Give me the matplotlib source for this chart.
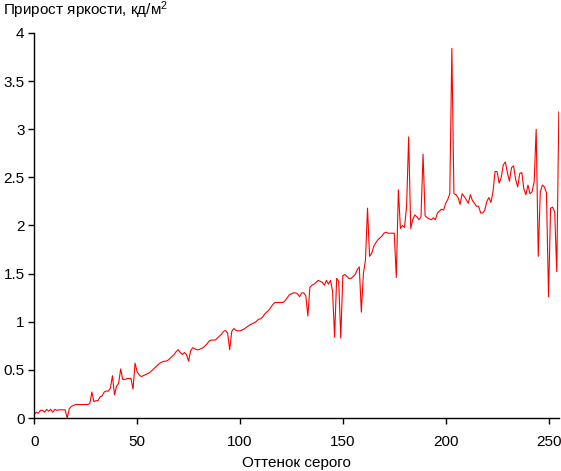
import matplotlib
matplotlib.use("Agg")
import matplotlib.pyplot as plt
import numpy as np

gray_levels = list(range(256))

increment_0_49 = [0.04, 0.06, 0.05, 0.08, 0.08, 0.06, 0.09, 0.07, 0.09, 0.06,
                  0.09, 0.08, 0.085, 0.085, 0.085, 0.085, 0.00, 0.095, 0.12, 0.13,
                  0.14, 0.14, 0.14, 0.14, 0.14, 0.14, 0.14, 0.15, 0.27, 0.17,
                  0.18, 0.18, 0.22, 0.23, 0.27, 0.28, 0.28, 0.31, 0.44, 0.24,
                  0.33, 0.36, 0.51, 0.40, 0.40, 0.41, 0.41, 0.41, 0.30, 0.57]
increment_50_99 = [0.48, 0.45, 0.43, 0.44, 0.45, 0.46, 0.47, 0.49, 0.51, 0.53,
                   0.55, 0.57, 0.58, 0.59, 0.59, 0.60, 0.62, 0.64, 0.66, 0.69,
                   0.71, 0.68, 0.66, 0.68, 0.66, 0.59, 0.70, 0.73, 0.72, 0.71,
                   0.71, 0.72, 0.73, 0.75, 0.77, 0.80, 0.81, 0.81, 0.81, 0.83,
                   0.85, 0.87, 0.90, 0.91, 0.88, 0.71, 0.90, 0.93, 0.91, 0.905]
increment_100_149 = [0.905, 0.915, 0.925, 0.94, 0.955, 0.97, 0.98, 0.99, 1.005, 1.025,
                     1.03, 1.05, 1.08, 1.10, 1.12, 1.15, 1.18, 1.20, 1.20, 1.20,
                     1.20, 1.20, 1.22, 1.25, 1.28, 1.29, 1.30, 1.30, 1.29, 1.26,
                     1.30, 1.30, 1.27, 1.06, 1.36, 1.38, 1.39, 1.41, 1.43, 1.42,
                     1.41, 1.38, 1.43, 1.39, 1.43, 1.32, 0.84, 1.45, 1.42, 0.83]
increment_150_199 = [1.48, 1.49, 1.47, 1.45, 1.45, 1.47, 1.49, 1.54, 1.57, 1.10,
                     1.50, 1.64, 2.18, 1.68, 1.71, 1.78, 1.82, 1.85, 1.87, 1.89,
                     1.92, 1.93, 1.92, 1.92, 1.92, 1.92, 1.46, 2.37, 1.97, 2.00,
                     1.98, 2.20, 2.92, 1.97, 2.06, 2.11, 2.09, 2.06, 2.09, 2.74,
                     2.10, 2.08, 2.07, 2.06, 2.08, 2.06, 2.13, 2.15, 2.17, 2.16]
increment_200_255 = [2.23, 2.27, 2.33, 3.84, 2.33, 2.32, 2.29, 2.22, 2.33, 2.30,
                     2.27, 2.23, 2.32, 2.26, 2.23, 2.20, 2.20, 2.13, 2.13, 2.16,
                     2.25, 2.29, 2.24, 2.35, 2.56, 2.56, 2.44, 2.50, 2.63, 2.66,
                     2.55, 2.46, 2.60, 2.62, 2.48, 2.40, 2.54, 2.55, 2.38, 2.32,
                     2.42, 2.33, 2.35, 2.45, 3.00, 1.68, 2.35, 2.42, 2.40, 2.34,
                     1.26, 2.18, 2.19, 2.14, 1.52, 3.18]

increment = (increment_0_49 + increment_50_99 + increment_100_149
             + increment_150_199 + increment_200_255)

x_ticks = [0, 50, 100, 150, 200, 250]
y_ticks = [0, 0.5, 1, 1.5, 2, 2.5, 3, 3.5, 4]
y_tick_labels = ["0", "0.5", "1", "1.5", "2", "2.5", "3", "3.5", "4"]

title_text = "Прирост яркости, кд/м$^2$"
xlabel_text = "Оттенок серого"

plt.rcParams['font.family'] = ['Liberation Sans', 'DejaVu Sans']
plt.rcParams['mathtext.fontset'] = 'custom'
plt.rcParams['mathtext.rm'] = 'Liberation Sans'
plt.rcParams['mathtext.it'] = 'Liberation Sans'
plt.rcParams['mathtext.bf'] = 'Liberation Sans'
plt.rcParams['mathtext.default'] = 'rm'

fig = plt.figure(figsize=(5.61, 4.71), dpi=100)
ax = fig.add_axes([0.0611, 0.1125, 0.9350, 0.8175])

ax.plot(gray_levels, increment, color='#ff0000', linewidth=0.8)

ax.set_xlim(0, 255)
ax.set_ylim(0, 4)
ax.set_xticks(x_ticks)
ax.set_yticks(y_ticks)
ax.set_yticklabels(y_tick_labels)

for s in ['top', 'right']:
    ax.spines[s].set_visible(False)
for s in ['left', 'bottom']:
    ax.spines[s].set_linewidth(1.0)
    ax.spines[s].set_color('black')

ax.tick_params(axis='both', direction='out', length=4, width=1.0,
               labelsize=11, colors='black')
ax.tick_params(axis='y', pad=3)
ax.tick_params(axis='x', pad=8)

ax.set_xlabel(xlabel_text, fontsize=11, labelpad=5)
fig.text(0.006, 0.979, title_text, fontsize=11, ha='left', va='center')

fig.savefig('out.png', dpi=100)
